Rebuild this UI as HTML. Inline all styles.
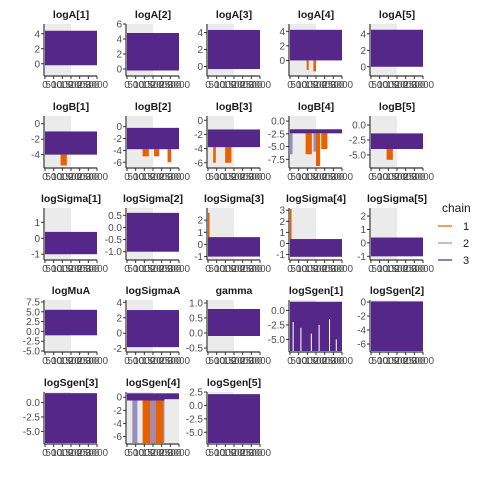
<!DOCTYPE html>
<html><head><meta charset="utf-8"><style>
body{margin:0;background:#fff;}
svg{display:block;font-family:"Liberation Sans",sans-serif;}
</style></head><body>
<svg id="chart" width="480" height="480"></svg>
<script>
const titles=["logA[1]","logA[2]","logA[3]","logA[4]","logA[5]","logB[1]","logB[2]","logB[3]","logB[4]","logB[5]","logSigma[1]","logSigma[2]","logSigma[3]","logSigma[4]","logSigma[5]","logMuA","logSigmaA","gamma","logSgen[1]","logSgen[2]","logSgen[3]","logSgen[4]","logSgen[5]"];
const yMin=[-1.5,-0.8,-1,-2,-1,-5.6,-6.8,-6.6,-9,-7,-1.3,-1.3,-1.2,-1.4,-1.2,-5,-2.3,-0.6,-7,-7,-7,-7,-7];
const yMax=[5.3,6,5,5,5.2,1,1.8,0.6,1,1.5,1.9,0.8,3,3.2,2.6,8,4.3,1.1,1.8,0.3,1.8,0.8,2.5];
const bandLo=[-0.2,-0.2,-0.3,0,0,-4,-3.8,-3.8,-2.4,-4,-1,-1,-1,-1.2,-1,-1,-1.8,-0.1,-7,-7,-7,-0.5,-7];
const bandHi=[4.4,4.8,4.3,4.2,4.5,-1,-0.2,-1.3,-1.6,-1.4,0.4,0.6,0.6,0.4,0.4,5.5,3,0.8,1.5,0.1,1.6,0.6,2.1];
const ticks=[[0,2,4],[0,2,4,6],[0,2,4],[0,2,4],[0,2,4],[0,-2,-4],[0,-2,-4,-6],[0,-2,-4,-6],[0,-2.5,-5,-7.5],[0,-2.5,-5],[1,0,-1],[0.5,0,-0.5,-1],[2,1,0,-1],[3,2,1,0,-1],[2,1,0,-1],[7.5,5,2.5,0,-2.5,-5],[4,2,0,-2],[1,0.5,0,-0.5],[0,-2.5,-5],[0,-2,-4,-6],[0,-2.5,-5],[0,-2,-4,-6],[2.5,0,-2.5,-5]];
const tickFmt=[0,0,0,0,0,0,0,0,1,1,0,1,0,0,0,1,0,1,1,0,1,0,1];
// orange excursions: [panel, xFrac0, xFrac1, yLow, yHigh]
const orange=[[3,0.32,0.36,-1.3,0],[3,0.45,0.5,-1.5,0],[5,0.3,0.42,-5.4,-4],[6,0.3,0.42,-5,-3.8],[6,0.52,0.62,-5,-3.8],[6,0.78,0.85,-6,-3.8],[7,0.33,0.45,-6,-3.8],[7,0.1,0.15,-6,-3.8],[8,0.3,0.42,-6.5,-2.4],[8,0.5,0.58,-8.8,-2.4],[8,0.6,0.72,-5.5,-2.4],[9,0.3,0.42,-5.8,-4],[12,0,0.03,0.6,2.6],[13,0,0.03,0.4,3.1],[21,0.3,0.45,-7,-0.5],[21,0.55,0.7,-7,-0.5]];
// light purple excursions
const light=[[8,0,0.05,-6.5,-2.4],[8,0.45,0.5,-6,-2.4],[21,0.1,0.2,-7,-0.5],[21,0.45,0.55,-7,-0.5],[21,0.7,0.75,-7,-0.5]];
// white gaps (unsampled regions) in logSgen panels
const gaps=[[18,0.05,0.07,-7,-2],[18,0.2,0.22,-7,-3],[18,0.4,0.42,-7,-4],[18,0.55,0.57,-7,-2.5],[18,0.75,0.77,-7,-1.5],[18,0.88,0.9,-7,-5],[21,0.05,0.1,-7,-0.5],[21,0.22,0.28,-7,-0.5],[21,0.72,1.0,-7,-0.3]];
const xLabels=["0","500","1000","1500","2000","2500","3000"];
const colLeft=[45,127,208,290,371], rowTop=[24,116,208,300,392], W=52, H=51;
const svg=document.getElementById('chart');
const NS="http://www.w3.org/2000/svg";
function mk(tag,attrs,parent){const e=document.createElementNS(NS,tag);for(const k in attrs)e.setAttribute(k,attrs[k]);(parent||svg).appendChild(e);return e;}
titles.forEach((t,i)=>{
  const L=colLeft[i%5],T=rowTop[Math.floor(i/5)];
  const g=mk('g',{});
  
  
  const ys=v=>T+H-(v-yMin[i])/(yMax[i]-yMin[i])*H;
  const xs=f=>L+f*W;
  const bg=mk('rect',{x:L,y:T,width:W/2,height:H,fill:'#ebebeb'},g);
  
  
  light.filter(o=>o[0]===i).forEach(o=>{const r=mk('rect',{x:xs(o[1]),width:xs(o[2])-xs(o[1]),y:ys(o[4]),height:ys(o[3])-ys(o[4]),fill:'#998ec3'},g);
    });
  orange.filter(o=>o[0]===i).forEach(o=>{const r=mk('rect',{x:xs(o[1]),width:xs(o[2])-xs(o[1]),y:ys(o[4]),height:ys(o[3])-ys(o[4]),fill:'#e66101'},g);
    });
  const b=mk('rect',{x:L,y:ys(bandHi[i]),width:W,height:ys(bandLo[i])-ys(bandHi[i]),fill:'#542788'},g);
  
  
  gaps.filter(o=>o[0]===i).forEach(o=>{const r=mk('rect',{x:xs(o[1]),width:xs(o[2])-xs(o[1]),y:ys(o[4]),height:ys(o[3])-ys(o[4]),fill:i===21?'#ebebeb':'#fff'},g);
    });
  const ttl=mk('text',{x:L+W/2,y:T-6,'text-anchor':'middle','font-size':'10.5','font-weight':'bold',fill:'#1a1a1a'},g);
  ttl.textContent=t;
  
  
  mk('line',{x1:L-1,y1:T,x2:L-1,y2:T+H+1,stroke:'#333','stroke-width':1.2},g);
  mk('line',{x1:L-1,y1:T+H+1,x2:L+W,y2:T+H+1,stroke:'#333','stroke-width':1.2},g);
  ticks[i].forEach(v=>{
    const y=ys(v);
    mk('line',{x1:L-4,y1:y,x2:L-1,y2:y,stroke:'#333'},g);
    const tx=mk('text',{x:L-5,y:y+3.5,'text-anchor':'end','font-size':'10',fill:'#4d4d4d'},g);
    tx.textContent=tickFmt[i]?v.toFixed(1):String(v);
    
    
  });
  xLabels.forEach((lab,k)=>{
    const x=L+k*W/(xLabels.length-1);
    mk('line',{x1:x,y1:T+H+1,x2:x,y2:T+H+4,stroke:'#333'},g);
    const tx=mk('text',{x:x,y:T+H+13,'text-anchor':'middle','font-size':'10',fill:'#4d4d4d'},g);
    tx.textContent=lab;
    
    
  });
});
const legendCols=['#e66101','#998ec3','#542788'];
const lg=mk('g',{});


const lt=mk('text',{x:442,y:212,'font-size':'12',fill:'#1a1a1a'},lg);
lt.textContent='chain';
legendCols.forEach((c,k)=>{
  const y=226+k*17;
  const e=mk('g',{},lg);
  
  
  mk('line',{x1:438,y1:y,x2:452,y2:y,stroke:c,'stroke-width':1.2},e);
  const tx=mk('text',{x:463,y:y+4,'font-size':'11',fill:'#1a1a1a'},e);
  tx.textContent=String(k+1);
});
</script>
</body></html>
